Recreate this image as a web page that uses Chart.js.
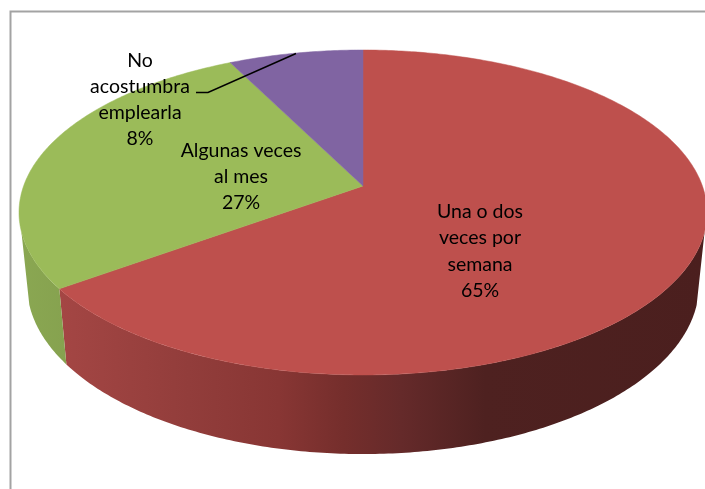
<!DOCTYPE html>
<html>
<head>
<meta charset="utf-8">
<style>html,body{margin:0;padding:0;background:#fff}#w{width:705px;height:489px}canvas{display:block}</style>
<script src="https://cdn.jsdelivr.net/npm/chart.js@4"></script>
</head>
<body>
<div id="w"><canvas id="c" width="705" height="489"></canvas></div>
<script>
const categories = ["Una o dos veces por semana", "Algunas veces al mes", "No acostumbra emplearla"];
const values = [65, 27.6, 7.4];
const percentLabels = ["65%", "27%", "8%"];
const labelLines = [["Una o dos", "veces por", "semana"], ["Algunas veces", "al mes"], ["No", "acostumbra", "emplearla"]];
const topColors = ["#BE504D", "#9BBB59", "#8064A2"];

const view = {
  radius: 339.4, squash: 0.466, tilt: -0.163,
  baseScale: 331.5 / 339.4, baseSquash: 0.4847, baseDrop: 71.5,
  wallFrom: 16, wallTo: 164
};
const wallStops = [
  [[0, "#A44644"], [0.2, "#923D3B"], [0.34, "#883634"], [0.44, "#752E2C"], [0.53, "#652A2A"], [0.66, "#4E2120"], [1, "#4B1F1E"]],
  [[0, "#8AA752"], [1, "#86A24F"]],
  [[0, "#6F5690"], [1, "#6F5690"]]
];
const labelPlace = [
  { x: 480, y: 212, step: 26.2 },
  { x: 241, y: 151, step: 26 },
  { x: 140, y: 61, step: 26 }
];

function pt(el, a, base) {
  const u = Math.cos(a), v = Math.sin(a), w = 1 + view.tilt * v, R = el.outerRadius;
  if (base) return [el.x + R * view.baseScale * u / w, el.y + view.baseDrop + R * view.baseSquash * v / w];
  return [el.x + R * u / w, el.y + R * view.squash * v / w];
}

Chart.ArcElement.prototype.draw = function (ctx) {
  const a0 = this.startAngle, a1 = this.endAngle, n = Math.max(8, Math.ceil((a1 - a0) * 90));
  ctx.save();
  ctx.beginPath();
  ctx.moveTo(this.x, this.y);
  for (let i = 0; i <= n; i++) {
    const p = pt(this, a0 + (a1 - a0) * i / n, false);
    ctx.lineTo(p[0], p[1]);
  }
  ctx.closePath();
  ctx.fillStyle = this.options.backgroundColor;
  ctx.strokeStyle = this.options.backgroundColor;
  ctx.lineWidth = 0.5;
  ctx.fill();
  ctx.stroke();
  ctx.restore();
};

const wallPlugin = {
  id: "wall",
  beforeDraw(chart) {
    const ctx = chart.ctx;
    ctx.save();
    ctx.strokeStyle = "#A3A3A3";
    ctx.lineWidth = 2;
    ctx.beginPath();
    ctx.moveTo(10.5, 489);
    ctx.lineTo(10.5, 11.5);
    ctx.lineTo(705, 11.5);
    ctx.stroke();
    ctx.restore();
  },
  beforeDatasetsDraw(chart) {
    const ctx = chart.ctx, els = chart.getDatasetMeta(0).data;
    const lo = view.wallFrom * Math.PI / 180, hi = view.wallTo * Math.PI / 180;
    els.forEach((el, i) => {
      const a0 = Math.max(el.startAngle, lo), a1 = Math.min(el.endAngle, hi);
      if (a1 <= a0) return;
      const n = Math.max(8, Math.ceil((a1 - a0) * 90));
      const top = [], bot = [];
      for (let k = 0; k <= n; k++) {
        const a = a0 + (a1 - a0) * k / n;
        top.push(pt(el, a, false));
        bot.push(pt(el, a, true));
      }
      const xs = top.concat(bot).map(p => p[0]);
      const minX = Math.min(...xs), maxX = Math.max(...xs);
      const g = ctx.createLinearGradient(minX, 0, maxX, 0);
      wallStops[i].forEach(s => g.addColorStop(s[0], s[1]));
      ctx.save();
      ctx.beginPath();
      top.forEach((p, k) => k ? ctx.lineTo(p[0], p[1]) : ctx.moveTo(p[0], p[1]));
      bot.reverse().forEach(p => ctx.lineTo(p[0], p[1]));
      ctx.closePath();
      ctx.fillStyle = g;
      ctx.fill();
      ctx.restore();
    });
  },
  afterDatasetsDraw(chart) {
    const ctx = chart.ctx;
    ctx.save();
    ctx.strokeStyle = "#000";
    ctx.lineWidth = 1.5;
    ctx.beginPath();
    ctx.moveTo(196, 92.5);
    ctx.lineTo(208, 92.5);
    ctx.lineTo(296, 53.5);
    ctx.stroke();
    ctx.fillStyle = "#000";
    ctx.font = '19.5px Lato, "Open Sans", sans-serif';
    ctx.textAlign = "center";
    ctx.textBaseline = "middle";
    labelLines.forEach((lines, i) => {
      const pl = labelPlace[i];
      lines.concat(percentLabels[i]).forEach((t, k) => ctx.fillText(t, pl.x, pl.y + k * pl.step));
    });
    ctx.restore();
  }
};

new Chart(document.getElementById("c"), {
  type: "pie",
  data: {
    labels: categories,
    datasets: [{ data: values, backgroundColor: topColors, borderWidth: 0, clip: false }]
  },
  options: {
    responsive: false,
    animation: false,
    radius: view.radius,
    layout: { padding: { left: 21, right: 0, top: 0, bottom: 117 } },
    plugins: { legend: { display: false }, tooltip: { enabled: false }, title: { display: false } }
  },
  plugins: [wallPlugin]
});
</script>
</body>
</html>
